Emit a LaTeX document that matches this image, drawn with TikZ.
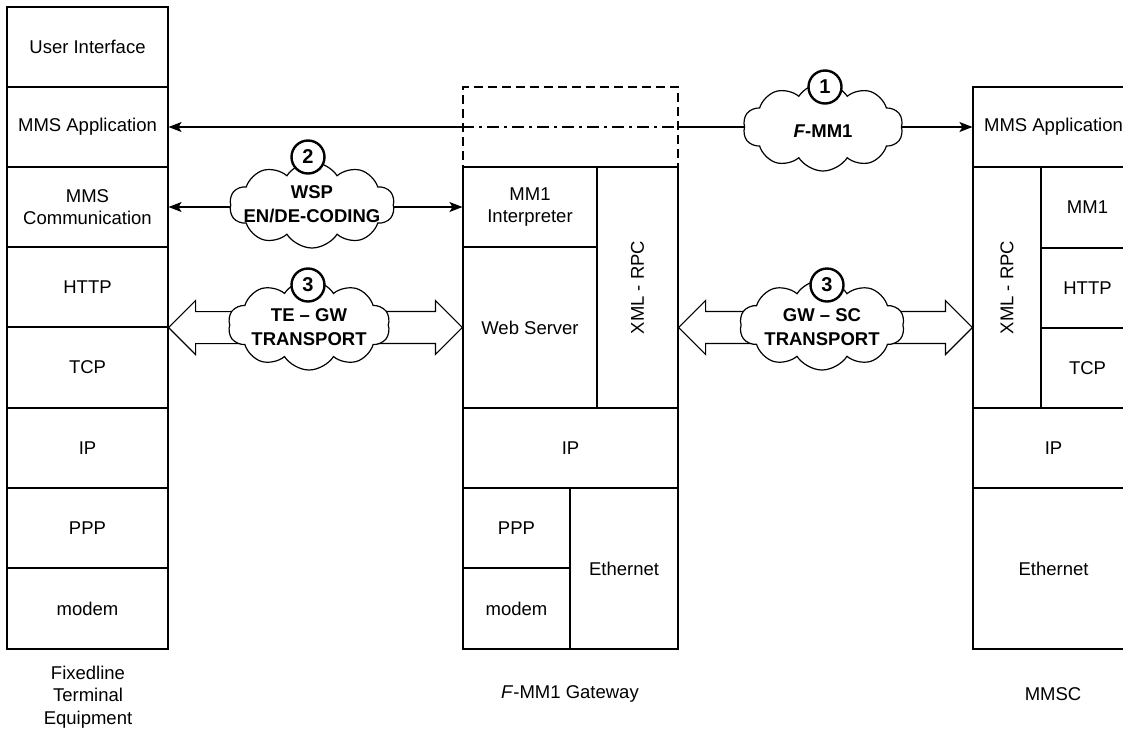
\documentclass[tikz,border=0pt]{standalone}
\usepackage{fontspec}
\setmainfont{Liberation Sans}
\usetikzlibrary{shapes.symbols,arrows.meta,calc}
\newcommand\mysz{\fontsize{18.5}{22.5}\selectfont}
\newcommand\layer[6]{\node[cell, minimum width={(#4)-(#2)}, minimum height={(#5)-(#3)}] (#1) at ({((#2)+(#4))/2},{((#3)+(#5))/2}) {#6};}
\newcommand\fatarrow[2]{\draw[fat] (#1) -- ($(#1)+(27,-27)$) -- ($(#1)+(27,-16)$) -- ($(#2)+(-27,-16)$) -- ($(#2)+(-27,-27)$) -- (#2) -- ($(#2)+(-27,27)$) -- ($(#2)+(-27,16)$) -- ($(#1)+(27,16)$) -- ($(#1)+(27,27)$) -- cycle;}
\begin{document}
\begin{tikzpicture}[x=1pt,y=-1pt,
  cell/.style={draw, line width=1.1pt, inner sep=0pt, align=center, font=\mysz},
  lbl/.style={inner sep=0pt, align=center, font=\mysz},
  conn/.style={line width=1.1pt, >={Stealth[length=13pt,width=10pt,inset=3pt]}},
  fat/.style={draw, line width=1.1pt, fill=white, line join=miter},
  cloudst/.style={cloud, cloud puffs=10, cloud puff arc=115, aspect=1.8, draw, fill=white, line width=1.2pt, inner sep=0pt},
  ctext/.style={inner sep=0pt, align=center, font=\fontsize{18.5}{24}\selectfont\bfseries},
  num/.style={circle, draw, fill=white, line width=2.4pt, minimum size=33pt, inner sep=0pt, font=\fontsize{20}{24}\selectfont\bfseries}]
\useasboundingbox (0,0) rectangle (1123,729);

% left column
\layer{ui}{7}{7}{168}{87}{User Interface}
\layer{lapp}{7}{87}{168}{167}{MMS Application}
\layer{lcom}{7}{167}{168}{247}{MMS\\Communication}
\layer{lhttp}{7}{247}{168}{327}{HTTP}
\layer{ltcp}{7}{327}{168}{408}{TCP}
\layer{lip}{7}{408}{168}{488}{IP}
\layer{lppp}{7}{488}{168}{568}{PPP}
\layer{lmod}{7}{568}{168}{649}{modem}

% gateway
\node[draw, line width=1.1pt, dash pattern=on 9pt off 5pt, minimum width=215pt, minimum height=80pt, inner sep=0pt] (gdash) at (570.5,127) {};
\layer{mm1i}{463}{167}{597}{247}{MM1\\Interpreter}
\layer{web}{463}{247}{597}{408}{Web Server}
\layer{gxml}{597}{167}{678}{408}{}
\layer{gip}{463}{408}{678}{488}{IP}
\layer{gppp}{463}{488}{570}{568}{PPP}
\layer{gmod}{463}{568}{570}{649}{modem}
\layer{geth}{570}{488}{678}{649}{Ethernet}
\node[lbl, rotate=90] at (gxml.center) {XML - RPC};

% MMSC
\layer{rapp}{973}{87}{1134}{167}{MMS Application}
\layer{rxml}{973}{167}{1041}{408}{}
\layer{rmm1}{1041}{167}{1134}{248}{MM1}
\layer{rhttp}{1041}{248}{1134}{328}{HTTP}
\layer{rtcp}{1041}{328}{1134}{408}{TCP}
\layer{rip}{973}{408}{1134}{488}{IP}
\layer{reth}{973}{488}{1134}{649}{Ethernet}
\node[lbl, rotate=90] at (rxml.center) {XML - RPC};

% connectors
\draw[conn, <-] (lapp.east) -- (gdash.west);
\draw[conn, dash pattern=on 12pt off 5pt on 3pt off 5pt] (gdash.west) -- (gdash.east);
\draw[conn, ->] (gdash.east) -- (rapp.west);
\draw[conn, <->] (lcom.east) -- (mm1i.west);
\fatarrow{lhttp.south east}{web.west}
\fatarrow{web.west -| gxml.east}{web.west -| rxml.west}

% clouds
\node[cloudst, minimum width=160pt, minimum height=88pt] (c1) at (823,127) {};
\node[ctext] at (823,131) {\textit{F}-MM1};
\node[num] (n1) at (825,87) {1};

\node[cloudst, minimum width=165pt, minimum height=86pt] (c2) at (312,205) {};
\node[ctext] at (312,204) {WSP\\EN/DE-CODING};
\node[num] (n2) at (308,157) {2};

\node[cloudst, minimum width=162pt, minimum height=90pt] (c3) at (309,325) {};
\node[ctext] at (309,327) {TE \textendash{} GW\\TRANSPORT};
\node[num] (n3) at (308,285) {3};

\node[cloudst, minimum width=165pt, minimum height=90pt] (c4) at (822,325) {};
\node[ctext] at (822,327) {GW \textendash{} SC\\TRANSPORT};
\node[num] (n4) at (827,285) {3};

% captions
\node[lbl] (cap1) at (88,697) {Fixedline\\Terminal\\Equipment};
\node[lbl] (cap2) at (570,694) {\textit{F}-MM1 Gateway};
\node[lbl] (cap3) at (1053,694) {MMSC};
\end{tikzpicture}
\end{document}
